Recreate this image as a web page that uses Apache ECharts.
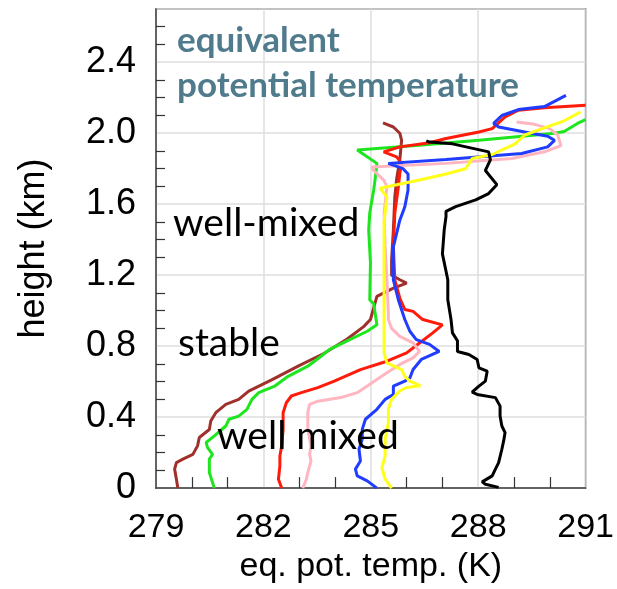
<!DOCTYPE html>
<html lang="en">
<head>
    <meta charset="UTF-8">
    <title>eq. pot. temp. profiles</title>
    <script type="text/javascript" src="https://cdn.jsdelivr.net/npm/echarts@6/dist/echarts.min.js"></script>
    <style>
        html, body { margin: 0; padding: 0; background: #fff; }
    </style>
</head>
<body>
    <div id="main" style="width: 617px;height:589px;"></div>
    <script type="text/javascript">
        // minor tick positions (no label)
        const xMinorTicks = [280, 281, 283, 284, 286, 287, 289, 290];
        const yMinorTicks = [0.1, 0.2, 0.3, 0.5, 0.6, 0.7, 0.9, 1.0, 1.1, 1.3, 1.4, 1.5,
                             1.7, 1.8, 1.9, 2.1, 2.2, 2.3, 2.5, 2.6];

        // profiles: [eq. pot. temp (K), height (km)]
        const brown = [[279.61,0],[279.57,0.05],[279.52,0.107],[279.57,0.144],[279.75,0.163],[280.03,0.19],
            [280.16,0.238],[280.21,0.285],[280.49,0.33],[280.53,0.378],[280.67,0.425],[280.95,0.472],[281.31,0.5],
            [281.59,0.547],[282.23,0.61],[282.97,0.687],[283.7,0.76],[284.34,0.84],[284.8,0.91],[284.99,0.95],
            [285.17,1.08],[285.63,1.127],[286.0,1.155],[285.81,1.174],[285.58,1.2],[285.58,1.287],[285.63,1.455],
            [285.67,1.64],[285.72,1.74],[285.81,1.85],[285.86,1.96],[285.81,2.0],[285.63,2.035],[285.34,2.058]];
        const green = [[280.63,0],[280.49,0.088],[280.49,0.163],[280.58,0.19],[280.44,0.228],[280.4,0.257],
            [280.63,0.294],[280.95,0.35],[281.04,0.388],[281.31,0.406],[281.54,0.444],[281.68,0.5],[281.87,0.538],
            [282.09,0.556],[282.32,0.575],[282.69,0.63],[283.24,0.687],[283.61,0.743],[283.84,0.78],[284.34,0.83],
            [284.9,0.884],[285.17,0.92],[285.12,0.987],[285.08,1.04],[284.97,1.06],[284.99,1.27],[284.94,1.455],
            [284.97,1.55],[285.08,1.68],[285.12,1.74],[285.17,1.83],[284.62,1.905],[286.18,1.93],[288.02,1.96],
            [290.13,2.0],[290.4,2.01],[290.77,2.055],[291,2.077]];
        const red = [[282.51,0],[282.42,0.05],[282.46,0.125],[282.46,0.181],[282.51,0.238],[282.55,0.331],
            [282.55,0.425],[282.64,0.481],[282.78,0.519],[283.06,0.538],[283.52,0.566],[283.98,0.603],[284.71,0.668],
            [285.45,0.715],[286.0,0.762],[286.36,0.818],[286.73,0.875],[287.0,0.92],[286.45,0.95],[286.18,0.996],
            [285.95,1.006],[285.81,1.07],[285.67,1.174],[285.63,1.36],[285.67,1.55],[285.77,1.7],[285.81,1.774],
            [285.86,1.83],[285.72,1.867],[285.36,1.895],[285.81,1.923],[286.64,1.946],[287.1,1.97],[288.02,2.007],
            [288.39,2.026],[288.75,2.092],[289.12,2.13],[289.85,2.144],[291,2.157]];
        const pink = [[283.1,0],[283.2,0.05],[283.24,0.088],[283.33,0.153],[283.29,0.19],[283.33,0.238],
            [283.24,0.331],[283.24,0.425],[283.29,0.472],[283.52,0.49],[284.16,0.51],[284.62,0.538],[284.9,0.575],
            [285.17,0.612],[285.45,0.65],[285.81,0.697],[286.18,0.734],[286.36,0.77],[286.18,0.818],[285.81,0.855],
            [285.58,0.9],[285.49,0.95],[285.49,0.99],[285.45,1.174],[285.4,1.36],[285.37,1.55],[285.45,1.7],
            [285.36,1.736],[285.08,1.79],[285.03,1.81],[287.1,1.83],[288.94,1.857],[289.85,1.895],[290.31,1.93],
            [290.22,1.99],[289.99,2.026],[289.58,2.05],[289.07,2.063]];
        const blue = [[285.17,0],[284.9,0.041],[284.62,0.069],[284.57,0.107],[284.71,0.153],[284.67,0.219],
            [284.76,0.275],[284.76,0.331],[284.85,0.388],[285.17,0.444],[285.4,0.5],[285.63,0.528],[285.63,0.575],
            [285.95,0.603],[286.09,0.62],[286.18,0.668],[286.41,0.725],[286.91,0.77],[286.64,0.81],[286.27,0.837],
            [286.09,0.884],[285.95,0.95],[285.77,1.06],[285.63,1.174],[285.63,1.36],[285.81,1.51],[285.95,1.586],
            [286.04,1.68],[286.04,1.77],[285.9,1.8],[285.49,1.83],[287.1,1.852],[289.21,1.886],[289.94,1.923],
            [290.13,1.96],[289.94,1.983],[289.3,2.007],[288.57,2.035],[288.43,2.055],[288.66,2.1],[289.12,2.133],
            [289.85,2.15],[290.45,2.213]];
        const yellow = [[285.58,0],[285.4,0.05],[285.31,0.116],[285.4,0.181],[285.4,0.275],[285.49,0.369],
            [285.49,0.444],[285.58,0.5],[285.81,0.547],[286.0,0.567],[286.38,0.577],[286.09,0.603],[285.95,0.63],
            [285.86,0.668],[285.45,0.706],[285.37,0.762],[285.37,0.95],[285.37,1.5],[285.45,1.64],[285.26,1.69],
            [286.55,1.745],[287.1,1.77],[287.65,1.8],[287.74,1.83],[287.83,1.857],[288.39,1.88],[289.03,1.94],
            [289.3,1.99],[289.85,2.03],[290.4,2.07],[290.86,2.12]];
        const black = [[288.57,0.004],[288.2,0.022],[288.11,0.035],[288.39,0.069],[288.48,0.107],[288.57,0.144],
            [288.66,0.219],[288.71,0.266],[288.75,0.313],[288.66,0.35],[288.61,0.406],[288.61,0.462],[288.48,0.51],
            [287.97,0.528],[287.83,0.541],[288.02,0.575],[288.2,0.603],[288.25,0.659],[288.02,0.678],[287.97,0.725],
            [287.74,0.753],[287.42,0.77],[287.42,0.83],[287.28,0.875],[287.24,0.95],[287.15,1.062],[287.15,1.174],
            [287.0,1.32],[287.05,1.455],[287.1,1.53],[287.1,1.56],[287.37,1.586],[287.93,1.624],[288.29,1.66],
            [288.52,1.71],[288.2,1.79],[288.34,1.85],[288.29,1.895],[287.28,1.94],[286.64,1.95],[286.55,1.957]];

        const profiles = [
            { name: 'brown', data: brown, color: '#a0302c' },
            { name: 'green', data: green, color: '#1ee61e' },
            { name: 'red', data: red, color: '#ff1a0a' },
            { name: 'pink', data: pink, color: '#ffb6c1' },
            { name: 'blue', data: blue, color: '#1f3cff' },
            { name: 'yellow', data: yellow, color: '#ffff1a' },
            { name: 'black', data: black, color: '#000000' }
        ];

        var myChart = echarts.init(document.getElementById('main'));

        var axisFont = 'Liberation Sans, Arial, sans-serif';
        var noteFont = 'Lato, Open Sans, sans-serif';
        var tickStyle = { color: '#333', width: 1.2 };

        var option = {
            animation: false,
            grid: {
                left: 156, right: 25, top: 9, bottom: 100,
                show: true, borderColor: '#444', borderWidth: 1.5
            },
            xAxis: [{
                // main axis: labels and grid lines every 3 K
                type: 'value',
                min: 279, max: 291, interval: 3,
                position: 'bottom',
                name: 'eq. pot. temp. (K)',
                nameLocation: 'middle',
                nameGap: 60,
                nameTextStyle: { fontFamily: axisFont, fontSize: 34, color: '#000' },
                axisLine: { lineStyle: { color: '#444', width: 1.5 } },
                axisTick: { show: false },
                axisLabel: { fontFamily: axisFont, fontSize: 34, color: '#000', margin: 23 },
                splitLine: { show: true, lineStyle: { color: '#dedede', width: 1.5 } }
            }, {
                // helper axis: inner ticks every 1 K
                type: 'value',
                min: 279, max: 291,
                position: 'bottom',
                axisLine: { show: false },
                axisTick: { show: true, inside: true, length: 11, customValues: xMinorTicks, lineStyle: tickStyle },
                axisLabel: { show: false },
                splitLine: { show: false }
            }],
            yAxis: [{
                type: 'value',
                min: 0, max: 2.7, interval: 0.4,
                position: 'left',
                name: 'height (km)',
                nameLocation: 'middle',
                nameGap: 104,
                nameTextStyle: { fontFamily: axisFont, fontSize: 36, color: '#000' },
                axisLine: { show: true, lineStyle: { color: '#444', width: 1.5 } },
                axisTick: { show: false },
                axisLabel: { fontFamily: axisFont, fontSize: 36, color: '#000', margin: 20,
                    showMaxLabel: false, padding: [0, 0, 8, 0],
                    formatter: function (v) { return v === 0 ? '0' : v.toFixed(1); } },
                splitLine: { show: true, lineStyle: { color: '#dedede', width: 1.5 } }
            }, {
                // helper axis: inner ticks every 0.1 km
                type: 'value',
                min: 0, max: 2.7,
                position: 'left',
                axisLine: { show: false },
                axisTick: { show: true, inside: true, length: 9, customValues: yMinorTicks, lineStyle: tickStyle },
                axisLabel: { show: false },
                splitLine: { show: false }
            }],
            graphic: [
                { type: 'text', left: 177, top: 23, z: 100,
                  style: { text: 'equivalent', font: 'bold 35px ' + noteFont, fill: '#4f7b8d' } },
                { type: 'text', left: 177, top: 68, z: 100,
                  style: { text: 'potential temperature', font: 'bold 35px ' + noteFont, fill: '#4f7b8d' } },
                { type: 'text', left: 173, top: 204, z: 100,
                  style: { text: 'well-mixed', font: '39px ' + noteFont, fill: '#000' } },
                { type: 'text', left: 178, top: 324, z: 100,
                  style: { text: 'stable', font: '39px ' + noteFont, fill: '#000' } },
                { type: 'text', left: 217, top: 417, z: 100,
                  style: { text: 'well mixed', font: '39px ' + noteFont, fill: '#000' } }
            ],
            series: profiles.map(function (p) {
                return {
                    name: p.name,
                    type: 'line',
                    xAxisIndex: 0,
                    yAxisIndex: 0,
                    data: p.data,
                    showSymbol: false,
                    symbol: 'none',
                    lineStyle: { color: p.color, width: 3 },
                    itemStyle: { color: p.color }
                };
            })
        };

        myChart.setOption(option);
    </script>
</body>
</html>
